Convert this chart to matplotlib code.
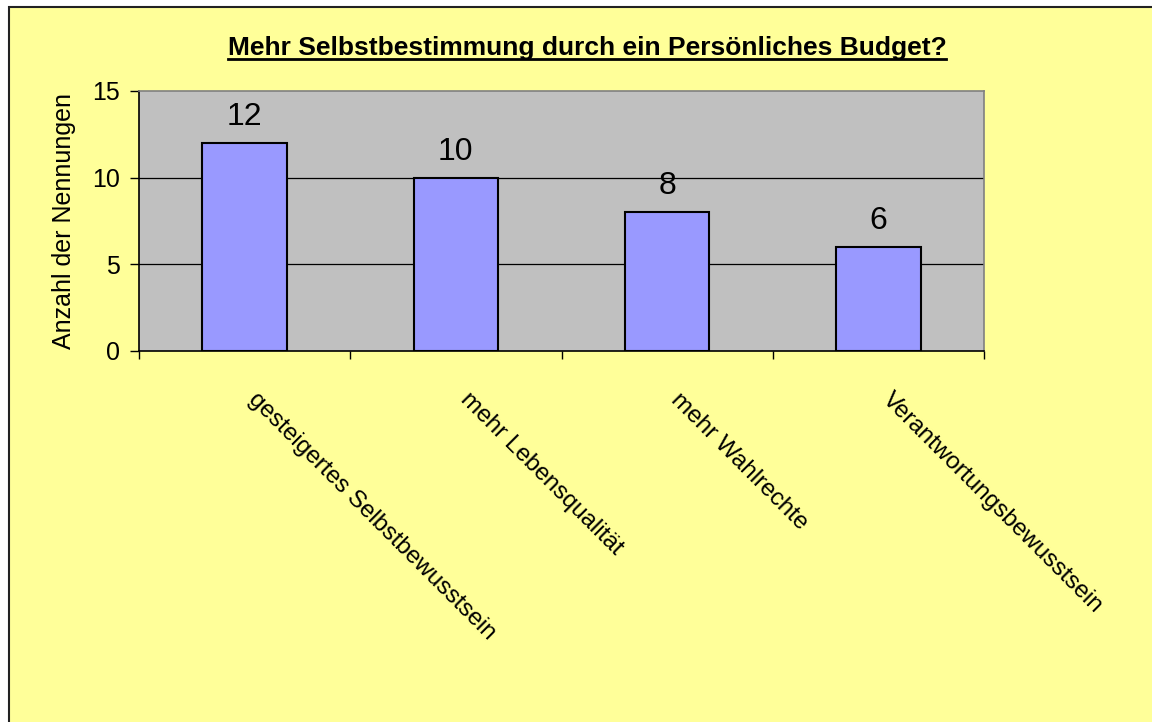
import matplotlib.pyplot as plt
from matplotlib.patches import Rectangle

plt.rcParams['font.family'] = ['Liberation Sans', 'DejaVu Sans']

categories = ['gesteigertes Selbstbewusstsein', 'mehr Lebensqualität',
              'mehr Wahlrechte', 'Verantwortungsbewusstsein']
values = [12, 10, 8, 6]
yticks = [0, 5, 10, 15]

fig = plt.figure(figsize=(11.52, 7.22), dpi=100)
fig.patch.set_facecolor('white')
# yellow chart area with dark border on left/top
fig.patches.append(Rectangle((9 / 1152, -0.1), 1.2, 1.1 - 7 / 722,
                             transform=fig.transFigure, facecolor='#FFFF99',
                             edgecolor='#222222', linewidth=1.5, zorder=-5))

ax = fig.add_axes([139 / 1152, 1 - 351 / 722, (984 - 139) / 1152, (351 - 91) / 722])
ax.set_facecolor('#C0C0C0')

x = list(range(len(categories)))
ax.bar(x, values, width=0.4, color='#9999FF', edgecolor='black', linewidth=1.5, zorder=3)
for xi, v in zip(x, values):
    ax.annotate(str(v), (xi, v), xytext=(0, 8), textcoords='offset points',
                ha='center', va='bottom', fontsize=23)

ax.set_xlim(-0.5, len(categories) - 0.5)
ax.set_ylim(0, 15)
ax.set_yticks(yticks)
ax.tick_params(axis='y', labelsize=18, length=6.5, width=1, direction='out', pad=7)
for y in [5, 10]:
    ax.axhline(y, color='black', linewidth=0.9, zorder=1)

# category ticks at boundaries, labels at centers
ax.set_xticks([i - 0.5 for i in range(len(categories) + 1)])
ax.set_xticklabels([])
ax.tick_params(axis='x', length=6, width=1, direction='out')
for xi, cat in zip(x, categories):
    ax.annotate(cat, (xi, 0), xytext=(11, -27), textcoords='offset points',
                ha='left', va='top', rotation=-45, rotation_mode='anchor',
                fontsize=17.5)

ax.spines['top'].set_color('#808080')
ax.spines['right'].set_color('#808080')
ax.spines['left'].set_color('black')
ax.spines['bottom'].set_color('black')
for s in ax.spines.values():
    s.set_linewidth(1.2)

ax.set_ylabel('Anzahl der Nennungen', fontsize=18, labelpad=12)
title = fig.text(587 / 1152, 1 - 48 / 722, 'Mehr Selbstbestimmung durch ein Persönliches Budget?',
                 ha='center', va='center', fontsize=19, fontweight='bold')
# underline matched to title width
fig.canvas.draw()
bb = title.get_window_extent().transformed(fig.transFigure.inverted())
fig.add_artist(plt.Line2D([bb.x0, bb.x1], [1 - 59 / 722, 1 - 59 / 722],
                          color='black', linewidth=2))

fig.savefig('out.png', dpi=100)
